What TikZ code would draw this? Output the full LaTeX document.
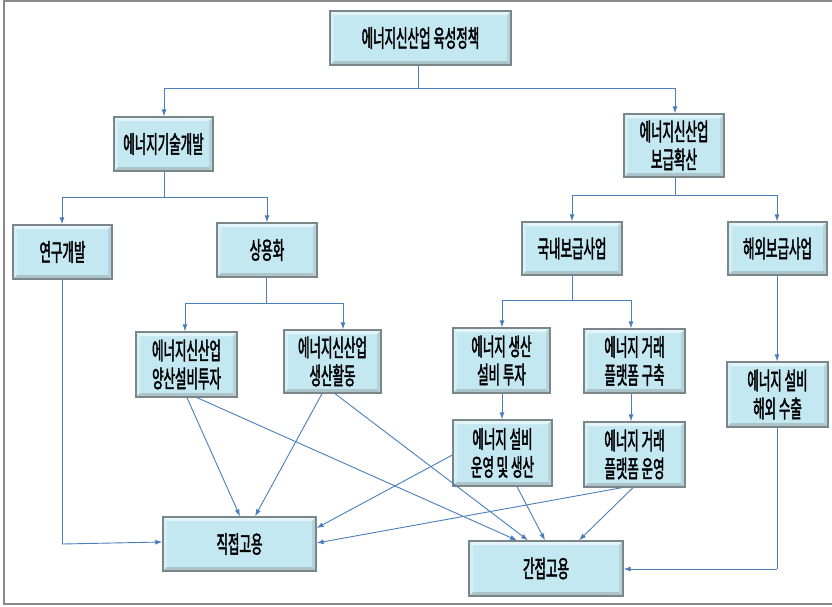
\documentclass[tikz,border=0pt]{standalone}
\usepackage{fontspec}
\newfontfamily\kr[FakeStretch=0.52, FakeBold=1.8]{Noto Sans CJK KR}
\usetikzlibrary{arrows.meta,shadows}
\definecolor{boxfill}{HTML}{C4E8F2}
\definecolor{boxedge}{HTML}{7A8688}
\definecolor{arrowblue}{HTML}{4A7EBB}
\definecolor{frame}{HTML}{888888}
\tikzset{
  box/.style={draw=boxedge, line width=1.3pt, fill=boxfill, align=center,
    inner sep=0pt, font=\kr\fontsize{24}{28}\selectfont,
    drop shadow={opacity=0.35, shadow xshift=1.2pt, shadow yshift=-1.2pt},
    path picture={
      \fill[white!55!boxfill] (path picture bounding box.north west) -- (path picture bounding box.north east)
        -- ([shift={(-4pt,-4pt)}]path picture bounding box.north east) -- ([shift={(4pt,-4pt)}]path picture bounding box.north west) -- cycle;
      \fill[white!30!boxfill] (path picture bounding box.north west) -- (path picture bounding box.south west)
        -- ([shift={(4pt,4pt)}]path picture bounding box.south west) -- ([shift={(4pt,-4pt)}]path picture bounding box.north west) -- cycle;
      \fill[boxfill!65!gray] (path picture bounding box.south west) -- (path picture bounding box.south east)
        -- ([shift={(-4pt,4pt)}]path picture bounding box.south east) -- ([shift={(4pt,4pt)}]path picture bounding box.south west) -- cycle;
      \fill[boxfill!80!gray] (path picture bounding box.north east) -- (path picture bounding box.south east)
        -- ([shift={(-4pt,4pt)}]path picture bounding box.south east) -- ([shift={(-4pt,-4pt)}]path picture bounding box.north east) -- cycle;
    }},
  ln/.style={draw=arrowblue, line width=0.9pt},
  arr/.style={ln, -{Latex[length=7pt,width=5pt]}},
}
\begin{document}
\begin{tikzpicture}[x=1pt,y=-1pt]
\useasboundingbox (0,0) rectangle (832,606);
\draw[frame, line width=2pt] (832,1) -- (4,1) -- (4,604) -- (832,604);

\node[box, minimum width=181, minimum height=54] (top) at (420.5,38) {에너지신산업 육성정책};
\node[box, minimum width=99, minimum height=54] (tech) at (163.5,144) {에너지기술개발};
\node[box, minimum width=100, minimum height=63] (supply) at (674,145.5) {에너지신산업\\보급확산};
\node[box, minimum width=99, minimum height=54] (rnd) at (62.5,252) {연구개발};
\node[box, minimum width=100, minimum height=54] (comm) at (267,250) {상용화};
\node[box, minimum width=100, minimum height=53] (dom) at (572,248.5) {국내보급사업};
\node[box, minimum width=99, minimum height=53] (ovs) at (777.5,248.5) {해외보급사업};
\node[box, minimum width=101, minimum height=65] (mass) at (186.5,364.5) {에너지신산업\\양산설비투자};
\node[box, minimum width=97, minimum height=63] (prod) at (332.5,361.5) {에너지신산업\\생산활동};
\node[box, minimum width=97, minimum height=65] (eqinv) at (501.5,360.5) {에너지 생산\\설비 투자};
\node[box, minimum width=101, minimum height=64] (platb) at (634.5,361) {에너지 거래\\플랫폼 구축};
\node[box, minimum width=99, minimum height=66] (eqop) at (502.5,453) {에너지 설비\\운영 및 생산};
\node[box, minimum width=101, minimum height=65] (platop) at (634.5,454.5) {에너지 거래\\플랫폼 운영};
\node[box, minimum width=101, minimum height=65] (export) at (777.5,394.5) {에너지 설비\\해외 수출};
\node[box, minimum width=153, minimum height=54] (direct) at (239.5,544) {직접고용};
\node[box, minimum width=154, minimum height=55] (indirect) at (546,568.5) {간접고용};

% tree branches
\coordinate (b1) at (418,88);
\coordinate (b1l) at (164,88);
\coordinate (b1r) at (675,88);
\draw[ln] (top.south -| b1) -- (b1);
\draw[ln] (b1l) -- (b1r);
\draw[arr] (b1l) -- (tech.north -| b1l);
\draw[arr] (b1r) -- (supply.north -| b1r);

\coordinate (b2) at (164,197);
\coordinate (b2l) at (62,197);
\coordinate (b2r) at (267,197);
\draw[ln] (tech.south -| b2) -- (b2);
\draw[ln] (b2l) -- (b2r);
\draw[arr] (b2l) -- (rnd.north -| b2l);
\draw[arr] (b2r) -- (comm.north -| b2r);

\coordinate (b3) at (675,195);
\coordinate (b3l) at (572,195);
\coordinate (b3r) at (777,195);
\draw[ln] (supply.south -| b3) -- (b3);
\draw[ln] (b3l) -- (b3r);
\draw[arr] (b3l) -- (dom.north -| b3l);
\draw[arr] (b3r) -- (ovs.north -| b3r);

\coordinate (b4) at (266,303);
\coordinate (b4l) at (185,303);
\coordinate (b4r) at (343,303);
\draw[ln] (comm.south -| b4) -- (b4);
\draw[ln] (b4l) -- (b4r);
\draw[arr] (b4l) -- (mass.north -| b4l);
\draw[arr] (b4r) -- (prod.north -| b4r);

\coordinate (b5) at (572,300);
\coordinate (b5l) at (502,300);
\coordinate (b5r) at (631,300);
\draw[ln] (dom.south -| b5) -- (b5);
\draw[ln] (b5l) -- (b5r);
\draw[arr] (b5l) -- (eqinv.north -| b5l);
\draw[arr] (b5r) -- (platb.north -| b5r);

\coordinate (c1) at (502,0);
\coordinate (c2) at (631,0);
\coordinate (c3) at (777,0);
\draw[arr] (eqinv.south -| c1) -- (eqop.north -| c1);
\draw[arr] (platb.south -| c2) -- (platop.north -| c2);
\draw[arr] (ovs.south -| c3) -- (export.north -| c3);

% to employment
\coordinate (e1) at (777,569);
\draw[ln] (export.south -| e1) -- (e1);
\draw[arr] (e1) -- (indirect.east |- e1);
\coordinate (r1) at (62,544);
\draw[ln] (rnd.south -| r1) -- (r1);
\draw[arr] (r1) -- (direct.west |- 0,542);

\draw[arr] (mass.south -| 187,0) -- (direct.north -| 240,0);
\draw[arr] (mass.south -| 197,0) -- (indirect.north -| 517,0);
\draw[arr] (prod.south -| 322,0) -- (direct.north -| 255,0);
\draw[arr] (prod.south -| 335,0) -- (indirect.north -| 528,0);
\draw[arr] (eqop.west |- 0,455) -- (direct.east |- 0,528);
\draw[arr] (eqop.south -| 517,0) -- (indirect.north -| 545,0);
\draw[arr] (platop.south -| 622,0) -- (direct.east |- 0,543);
\draw[arr] (platop.south -| 633,0) -- (indirect.north -| 579,0);
\end{tikzpicture}
\end{document}
